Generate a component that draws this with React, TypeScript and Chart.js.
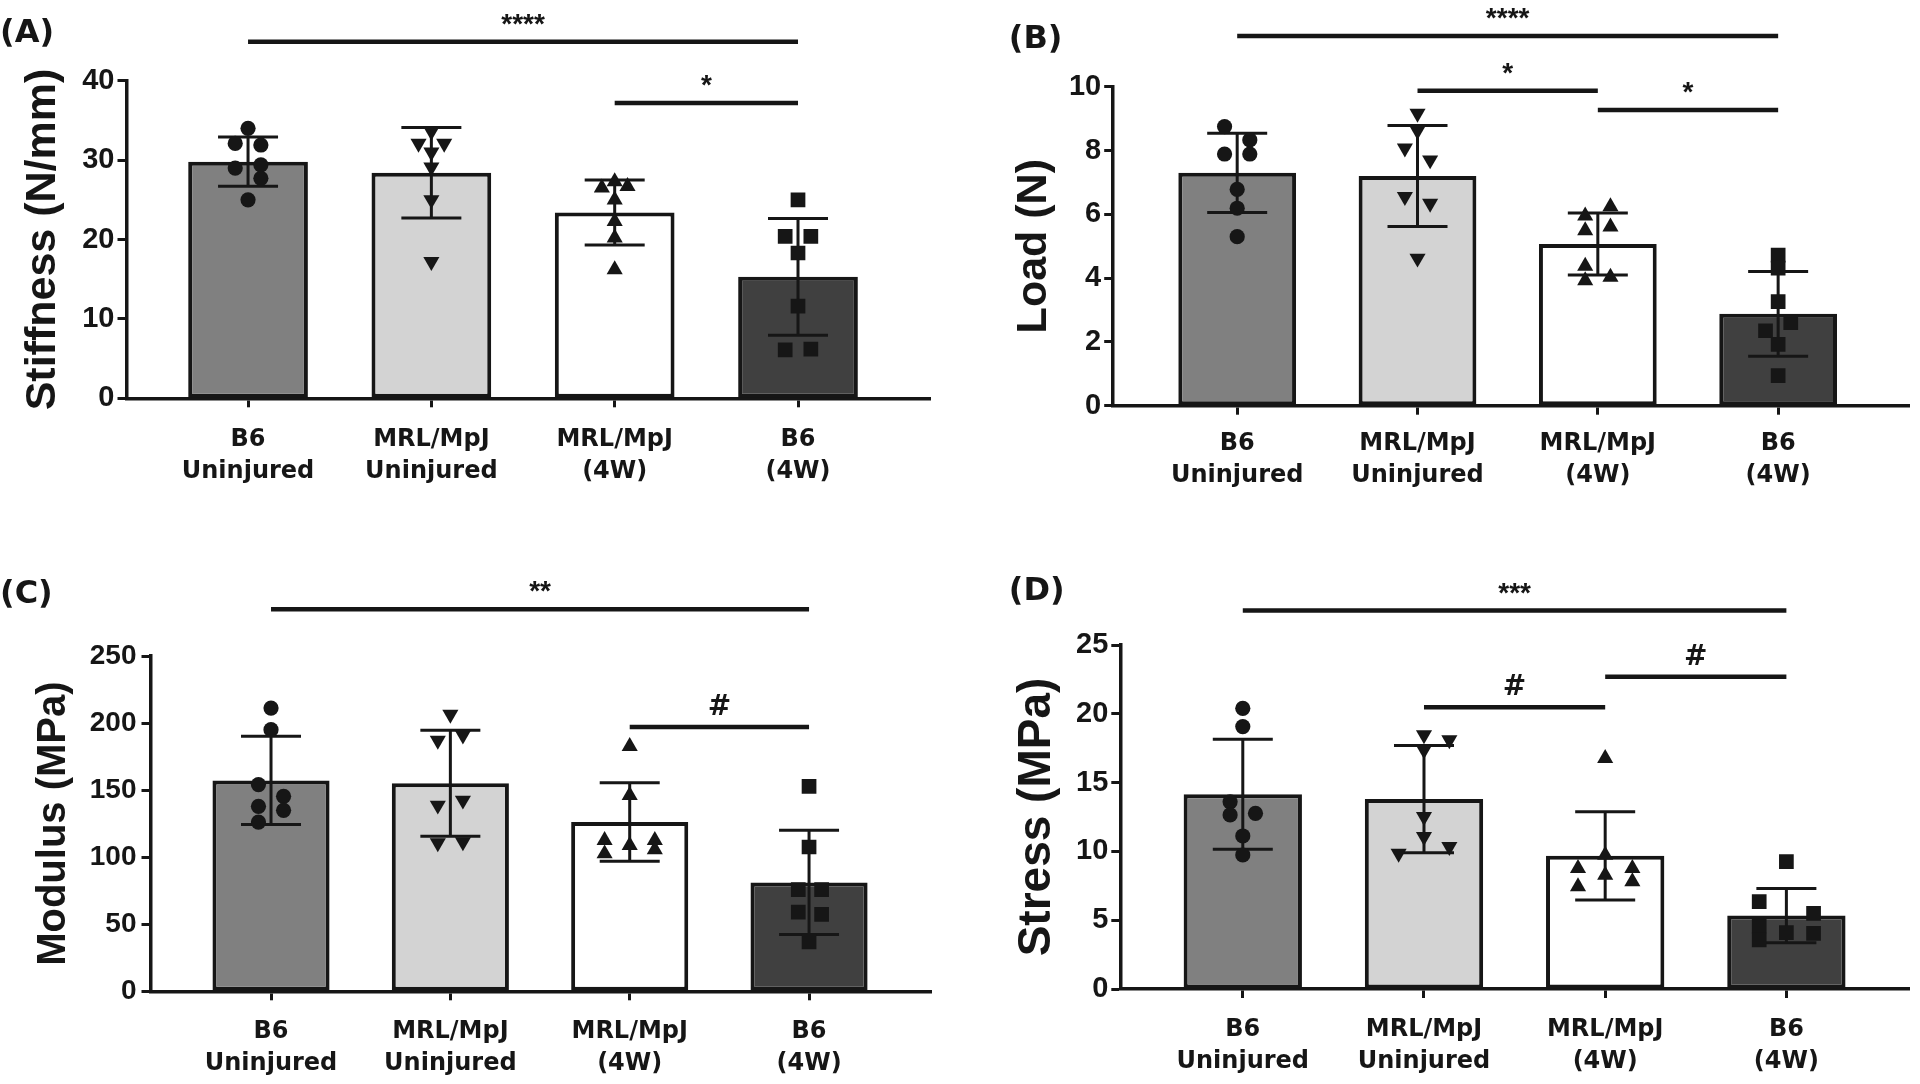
import React, { useEffect, useRef } from 'react';
import { Chart, registerables } from 'chart.js';

Chart.register(...registerables);

// ---------------- data ----------------
const categories: string[][] = [
  ['B6', 'Uninjured'],
  ['MRL/MpJ', 'Uninjured'],
  ['MRL/MpJ', '(4W)'],
  ['B6', '(4W)'],
];

type Sig = { from: number; to: number; value: number; label: string };

// (A) Stiffness
const stiffnessMean = [29.8, 28.4, 23.4, 15.3];
const stiffnessSD = [3.1, 5.7, 4.1, 7.35];
const stiffnessPoints = [
  [34.0, 32.1, 31.9, 29.0, 29.4, 27.7, 25.0],
  [33.6, 32.1, 32.1, 31.0, 29.1, 25.0, 17.2],
  [26.5, 27.3, 26.7, 25.0, 22.3, 20.2, 16.2],
  [25.0, 20.4, 20.4, 18.3, 11.6, 6.1, 6.2],
];
const stiffnessJitter = [
  [0, -0.07, 0.07, -0.07, 0.07, 0.07, 0],
  [0, -0.07, 0.07, 0, 0, 0, 0],
  [-0.07, 0, 0.07, 0, 0, 0, 0],
  [0, -0.07, 0.07, 0, 0, -0.07, 0.07],
];
const stiffnessSig: Sig[] = [
  { from: 1, to: 4, value: 44.9, label: '****' },
  { from: 3, to: 4, value: 37.2, label: '*' },
];

// (B) Load
const loadMean = [7.3, 7.2, 5.07, 2.88];
const loadSD = [1.24, 1.58, 0.97, 1.33];
const loadPoints = [
  [8.75, 8.33, 7.89, 7.89, 6.78, 6.19, 5.3],
  [9.16, 8.62, 8.07, 7.7, 6.55, 6.34, 4.62],
  [5.95, 6.24, 5.49, 5.61, 4.38, 3.92, 4.03],
  [4.72, 4.31, 3.26, 2.35, 2.6, 1.92, 0.94],
];
const loadJitter = [
  [-0.07, 0.07, -0.07, 0.07, 0, 0, 0],
  [0, 0, -0.07, 0.07, -0.07, 0.07, 0],
  [-0.07, 0.07, -0.07, 0.07, -0.07, -0.07, 0.07],
  [0, 0, 0, -0.07, 0.07, 0, 0],
];
const loadSig: Sig[] = [
  { from: 1, to: 4, value: 11.59, label: '****' },
  { from: 2, to: 3, value: 9.87, label: '*' },
  { from: 3, to: 4, value: 9.27, label: '*' },
];

// (C) Modulus
const modulusMean = [157.2, 155.1, 126.2, 81.2];
const modulusSD = [32.9, 39.5, 29.3, 38.8];
const modulusPoints = [
  [211.2, 195.1, 154.1, 145.4, 137.9, 134.9, 126.2],
  [206.5, 187.1, 190.9, 138.7, 142.4, 110.6, 111.3],
  [182.7, 146.1, 112.6, 108.8, 112.6, 102.6, 105.6],
  [152.8, 107.6, 75.8, 75.8, 59.1, 57.4, 36.8],
];
const modulusJitter = [
  [0, 0, -0.07, 0.07, -0.07, 0.07, -0.07],
  [0, -0.07, 0.07, -0.07, 0.07, -0.07, 0.07],
  [0, 0, -0.14, 0, 0.14, -0.14, 0.14],
  [0, 0, -0.06, 0.07, -0.06, 0.07, 0],
];
const modulusSig: Sig[] = [
  { from: 1, to: 4, value: 284.8, label: '**' },
  { from: 3, to: 4, value: 197.1, label: '#' },
];

// (D) Stress
const stressMean = [14.15, 13.8, 9.68, 5.34];
const stressSD = [4.0, 3.9, 3.21, 1.97];
const stressPoints = [
  [20.4, 19.07, 13.6, 12.65, 12.77, 11.12, 9.74],
  [18.46, 18.1, 17.37, 12.52, 11.07, 9.86, 10.34],
  [16.76, 9.74, 8.77, 8.77, 8.28, 7.44, 7.8],
  [9.25, 6.35, 5.5, 4.58, 4.09, 4.05, 3.56],
];
const stressJitter = [
  [0, 0, -0.07, -0.07, 0.07, 0, 0],
  [0, 0.14, 0, 0, 0, -0.14, 0.14],
  [0, 0, -0.15, 0.15, 0, -0.15, 0.15],
  [0, -0.15, 0.15, -0.15, 0, 0.15, -0.15],
];
const stressSig: Sig[] = [
  { from: 1, to: 4, value: 27.5, label: '***' },
  { from: 2, to: 3, value: 20.47, label: '#' },
  { from: 3, to: 4, value: 22.7, label: '#' },
];

// ---------------- styles ----------------
const INK = '#161616';
const FONT_SANS = '"Liberation Sans", Arial, Helvetica, sans-serif';
const FONT_WIDE = '"DejaVu Sans", Verdana, sans-serif';
const barFills = ['#808080', '#d3d3d3', '#ffffff', '#404040'];
const markerStyle = ['circle', 'triangle', 'triangle', 'rect'];
const markerRotation = [0, 180, 0, 0];
const markerRadius = [7.6, 9.3, 9.3, 10.4];

interface Panel {
  tag: string;
  title: string;
  titleSize: number;
  titleX: number;
  means: number[];
  sd: number[];
  points: number[][];
  jitter: number[][];
  sig: Sig[];
  yMax: number;
  yStep: number;
  tickSize: number;
  tickPad: number;
  xLabelPad: number;
  box: { left: number; top: number; width: number; height: number };
  padTop: number;
  padRight: number;
  yWidth: number;
  xHeight: number;
  xMin: number;
  xMax: number;
  tagPos: [number, number];
}

const panels: Panel[] = [
  {
    tag: '(A)', title: 'Stiffness (N/mm)', titleSize: 43, titleX: 43.5,
    means: stiffnessMean, sd: stiffnessSD, points: stiffnessPoints, jitter: stiffnessJitter, sig: stiffnessSig,
    yMax: 40, yStep: 10, tickSize: 29, tickPad: 3, xLabelPad: 16,
    box: { left: 0, top: 0, width: 960, height: 545 },
    padTop: 80.7, padRight: 30, yWidth: 126.5, xHeight: 146.7, xMin: 0.337, xMax: 4.72, tagPos: [0, 42],
  },
  {
    tag: '(B)', title: 'Load (N)', titleSize: 43, titleX: 54.3,
    means: loadMean, sd: loadSD, points: loadPoints, jitter: loadJitter, sig: loadSig,
    yMax: 10, yStep: 2, tickSize: 29, tickPad: 3, xLabelPad: 13,
    box: { left: 980, top: 0, width: 940, height: 545 },
    padTop: 86.7, padRight: 0, yWidth: 133.2, xHeight: 139.3, xMin: 0.3124, xMax: 4.729, tagPos: [28.8, 48],
  },
  {
    tag: '(C)', title: 'Modulus (MPa)', titleSize: 40, titleX: 54,
    means: modulusMean, sd: modulusSD, points: modulusPoints, jitter: modulusJitter, sig: modulusSig,
    yMax: 250, yStep: 50, tickSize: 28, tickPad: 5, xLabelPad: 15,
    box: { left: 0, top: 545, width: 960, height: 539 },
    padTop: 111, padRight: 29, yWidth: 150.5, xHeight: 92.7, xMin: 0.328, xMax: 4.68, tagPos: [0, 58],
  },
  {
    tag: '(D)', title: 'Stress (MPa)', titleSize: 46, titleX: 57,
    means: stressMean, sd: stressSD, points: stressPoints, jitter: stressJitter, sig: stressSig,
    yMax: 25, yStep: 5, tickSize: 29, tickPad: 3, xLabelPad: 16,
    box: { left: 980, top: 545, width: 940, height: 539 },
    padTop: 100, padRight: 0, yWidth: 140.3, xHeight: 95, xMin: 0.324, xMax: 4.68, tagPos: [28.8, 55],
  },
];

function decorations(p: Panel) {
  return {
    id: 'decorations',
    afterDatasetDraw(chart: any, args: any) {
      if (args.meta.type !== 'bar') return;
      const { ctx } = chart;
      const x = chart.scales.x;
      const y = chart.scales.y;
      ctx.save();
      ctx.strokeStyle = INK;
      ctx.lineWidth = 3;
      p.means.forEach((m, i) => {
        const cx = x.getPixelForValue(i + 1);
        const hi = y.getPixelForValue(m + p.sd[i]);
        const lo = y.getPixelForValue(m - p.sd[i]);
        ctx.beginPath();
        ctx.moveTo(cx, hi);
        ctx.lineTo(cx, lo);
        ctx.moveTo(cx - 30, hi);
        ctx.lineTo(cx + 30, hi);
        ctx.moveTo(cx - 30, lo);
        ctx.lineTo(cx + 30, lo);
        ctx.stroke();
      });
      ctx.restore();
    },
    afterDraw(chart: any) {
      const { ctx } = chart;
      const x = chart.scales.x;
      const y = chart.scales.y;
      ctx.save();
      ctx.strokeStyle = INK;
      ctx.fillStyle = INK;
      ctx.lineWidth = 4.5;
      ctx.textAlign = 'center';
      ctx.textBaseline = 'alphabetic';
      p.sig.forEach((s) => {
        const x1 = x.getPixelForValue(s.from);
        const x2 = x.getPixelForValue(s.to);
        const py = y.getPixelForValue(s.value);
        ctx.beginPath();
        ctx.moveTo(x1, py);
        ctx.lineTo(x2, py);
        ctx.stroke();
        const hash = s.label.includes('#');
        ctx.font = hash ? `bold 28px ${FONT_WIDE}` : `bold 28px ${FONT_SANS}`;
        ctx.fillText(s.label, (x1 + x2) / 2, py - (hash ? 12 : 9));
      });
      ctx.textAlign = 'left';
      ctx.font = `bold 32px ${FONT_WIDE}`;
      ctx.fillText(p.tag, p.tagPos[0], p.tagPos[1]);
      ctx.restore();
    },
  };
}

function PanelChart({ p }: { p: Panel }) {
  const ref = useRef<HTMLCanvasElement | null>(null);

  useEffect(() => {
    const canvas = ref.current;
    if (!canvas) return;
    const datasets: any[] = [
      {
        type: 'bar',
        data: p.means.map((m, i) => ({ x: i + 1, y: m })),
        backgroundColor: barFills,
        borderColor: INK,
        borderWidth: 4,
        borderSkipped: false,
        barPercentage: 0.653,
        categoryPercentage: 1,
        order: 2,
      },
      ...p.points.map((vals, g) => ({
        type: 'scatter',
        data: vals.map((v, k) => ({ x: g + 1 + p.jitter[g][k], y: v })),
        pointStyle: markerStyle[g],
        pointRotation: markerRotation[g],
        pointRadius: markerRadius[g],
        pointHoverRadius: markerRadius[g],
        pointBackgroundColor: INK,
        pointBorderColor: INK,
        pointBorderWidth: 0,
        showLine: false,
        order: 1,
      })),
    ];

    const chart = new Chart(canvas, {
      type: 'bar',
      data: { datasets },
      options: {
        animation: false,
        responsive: false,
        devicePixelRatio: 1,
        events: [],
        layout: { padding: { top: p.padTop, right: p.padRight, left: 0, bottom: 0 } },
        plugins: { legend: { display: false }, tooltip: { enabled: false } },
        scales: {
          x: {
            type: 'linear',
            min: p.xMin,
            max: p.xMax,
            offset: false,
            afterBuildTicks: (s: any) => {
              s.ticks = categories.map((_, i) => ({ value: i + 1 }));
            },
            afterFit: (s: any) => {
              s.height = p.xHeight;
            },
            ticks: {
              autoSkip: false,
              maxRotation: 0,
              minRotation: 0,
              padding: p.xLabelPad,
              color: INK,
              font: { family: FONT_WIDE, size: 24, weight: 'bold', lineHeight: 32 / 24 },
              callback: (v: any) => categories[Math.round(Number(v)) - 1] ?? '',
            },
            grid: { offset: false, drawOnChartArea: false, drawTicks: true, tickLength: 9, tickWidth: 3, color: INK, tickColor: INK },
            border: { display: true, width: 3.5, color: INK },
          },
          y: {
            type: 'linear',
            min: 0,
            max: p.yMax,
            afterFit: (s: any) => {
              s.width = p.yWidth;
            },
            ticks: {
              stepSize: p.yStep,
              padding: p.tickPad,
              color: INK,
              font: { family: FONT_SANS, size: p.tickSize, weight: 'bold' },
            },
            grid: { drawOnChartArea: false, drawTicks: true, tickLength: 9, tickWidth: 3, color: INK, tickColor: INK },
            border: { display: true, width: 3.5, color: INK },
            title: {
              display: true,
              text: p.title,
              color: INK,
              font: { family: FONT_SANS, size: p.titleSize, weight: 'bold', lineHeight: 1 },
              padding: { top: p.titleX - p.titleSize / 2, bottom: 0 },
            },
          },
        },
      } as any,
      plugins: [decorations(p)],
    } as any);

    return () => chart.destroy();
  }, [p]);

  return (
    <canvas
      ref={ref}
      width={p.box.width}
      height={p.box.height}
      style={{ position: 'absolute', left: p.box.left, top: p.box.top, width: p.box.width, height: p.box.height }}
    />
  );
}

export default function App() {
  return (
    <div style={{ position: 'absolute', left: 0, top: 0, width: 1920, height: 1084, background: '#ffffff', overflow: 'hidden' }}>
      {panels.map((p) => (
        <PanelChart key={p.tag} p={p} />
      ))}
    </div>
  );
}
